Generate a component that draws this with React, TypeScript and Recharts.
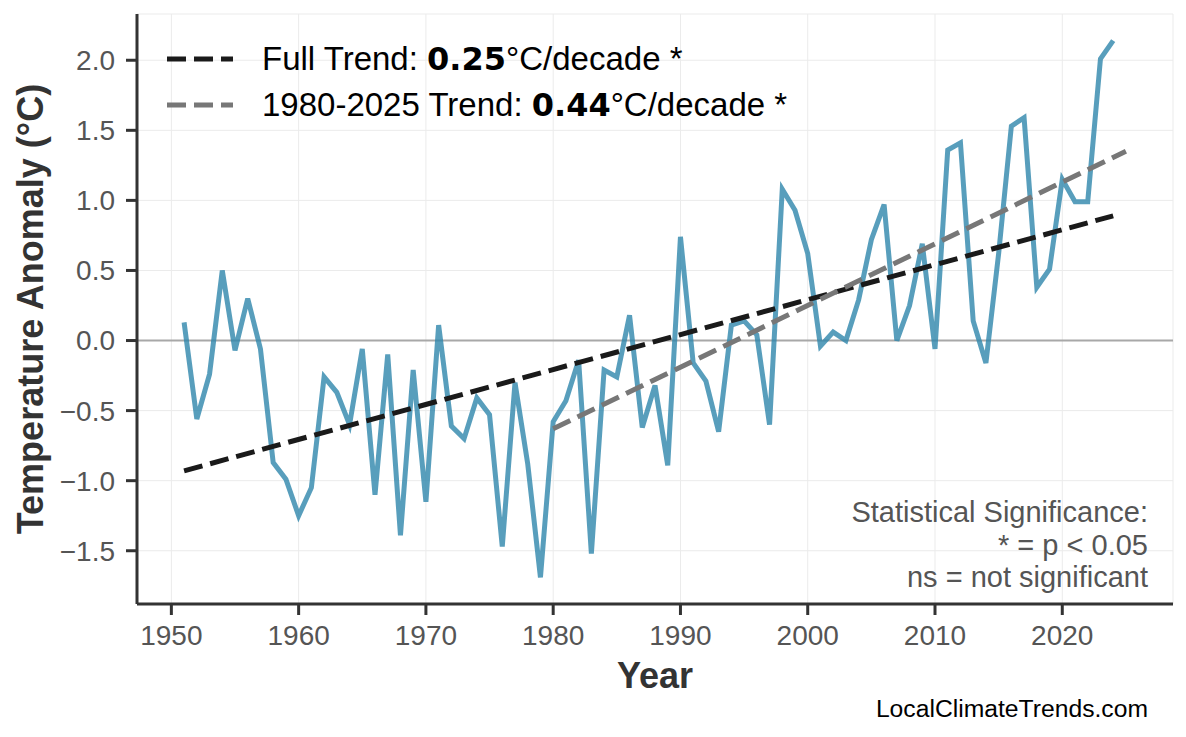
import { LineChart, Line, XAxis, YAxis, CartesianGrid, ReferenceLine, Legend, Customized } from 'recharts';

const years = [
    1951, 1952, 1953, 1954, 1955, 1956, 1957, 1958, 1959, 1960,
    1961, 1962, 1963, 1964, 1965, 1966, 1967, 1968, 1969, 1970,
    1971, 1972, 1973, 1974, 1975, 1976, 1977, 1978, 1979, 1980,
    1981, 1982, 1983, 1984, 1985, 1986, 1987, 1988, 1989, 1990,
    1991, 1992, 1993, 1994, 1995, 1996, 1997, 1998, 1999, 2000,
    2001, 2002, 2003, 2004, 2005, 2006, 2007, 2008, 2009, 2010,
    2011, 2012, 2013, 2014, 2015, 2016, 2017, 2018, 2019, 2020,
    2021, 2022, 2023, 2024,
];

const anomalies = [
    0.13, -0.56, -0.24, 0.50, -0.07, 0.30, -0.06, -0.87, -0.99, -1.25,
    -1.05, -0.26, -0.37, -0.60, -0.06, -1.10, -0.10, -1.39, -0.21, -1.15,
    0.11, -0.61, -0.70, -0.41, -0.53, -1.47, -0.30, -0.88, -1.69, -0.58,
    -0.43, -0.14, -1.52, -0.21, -0.26, 0.18, -0.62, -0.32, -0.89, 0.74,
    -0.16, -0.29, -0.65, 0.11, 0.14, 0.04, -0.60, 1.08, 0.93, 0.62,
    -0.04, 0.06, 0.00, 0.29, 0.72, 0.97, 0.00, 0.25, 0.69, -0.06,
    1.36, 1.41, 0.14, -0.16, 0.62, 1.53, 1.59, 0.38, 0.51, 1.15,
    0.99, 0.99, 2.01, 2.14,
];

// trend lines: end points of each fitted line
const fullTrendYears = [1951, 2024];
const fullTrendValues = [-0.93, 0.89];
const recentTrendYears = [1980, 2025];
const recentTrendValues = [-0.63, 1.35];

const trendNames = ['Full Trend', '1980-2025 Trend'];
const trendSlopes = ['0.25', '0.44'];
const trendSignif = ['*', '*'];
const trendColors = ['#1a1a1a', '#777777'];

const xTicks = [1950, 1960, 1970, 1980, 1990, 2000, 2010, 2020];
const yTicks = [-1.5, -1.0, -0.5, 0.0, 0.5, 1.0, 1.5, 2.0];

const significanceNote = ['Statistical Significance:', '* = p < 0.05', 'ns = not significant'];
const watermark = 'LocalClimateTrends.com';

const anomalyData = years.map((year, i) => ({ year, value: anomalies[i] }));
const fullTrendData = fullTrendYears.map((year, i) => ({ year, value: fullTrendValues[i] }));
const recentTrendData = recentTrendYears.map((year, i) => ({ year, value: recentTrendValues[i] }));

const FONT = '"Liberation Sans", Arial, sans-serif';
const DASH = '19 8';

function TrendLegend() {
    return (
        <div style={{ fontFamily: FONT, fontSize: 33, color: '#000' }}>
            {trendNames.map((name, i) => (
                <div key={name} style={{ display: 'flex', alignItems: 'center', height: 46 }}>
                    <svg width={66} height={10} style={{ display: 'block' }}>
                        <line x1={0} x2={66} y1={5} y2={5} stroke={trendColors[i]} strokeWidth={5} strokeDasharray={DASH} />
                    </svg>
                    <span style={{ marginLeft: 29, whiteSpace: 'nowrap' }}>
                        {name}: <b style={{ fontFamily: '"DejaVu Sans", sans-serif', fontSize: 32 }}>{trendSlopes[i]}</b>°C/decade {trendSignif[i]}
                    </span>
                </div>
            ))}
        </div>
    );
}

function Annotations() {
    return (
        <g fontFamily={FONT}>
            <text
                x={43}
                y={309}
                transform="rotate(-90, 43, 309)"
                textAnchor="middle"
                fontSize={36}
                fontWeight="bold"
                fill="#333"
            >
                Temperature Anomaly (°C)
            </text>
            <text x={655} y={688} textAnchor="middle" fontSize={36} fontWeight="bold" fill="#333">
                Year
            </text>
            {significanceNote.map((line, i) => (
                <text key={line} x={1148} y={512 + i * 32.5} textAnchor="end" dominantBaseline="central" fontSize={29} fill="#555">
                    {line}
                </text>
            ))}
            <text x={1148} y={708} textAnchor="end" dominantBaseline="central" fontSize={24.7} fill="#000">
                {watermark}
            </text>
        </g>
    );
}

export default function App() {
    return (
        <div style={{ width: 1186, height: 737, background: '#fff' }}>
            <style>{'body{margin:0}'}</style>
            <LineChart
                width={1186}
                height={737}
                data={anomalyData}
                margin={{ top: 14, right: 13, left: 0, bottom: 0 }}
            >
                <CartesianGrid stroke="#ebebeb" strokeWidth={1} />
                <XAxis
                    dataKey="year"
                    type="number"
                    domain={[1947.3, 2028.7]}
                    allowDataOverflow
                    ticks={xTicks}
                    height={133}
                    tickSize={11}
                    tickMargin={10}
                    stroke="#333"
                    strokeWidth={3}
                    tick={{ fill: '#555', fontSize: 28, fontFamily: FONT }}
                />
                <YAxis
                    type="number"
                    domain={[-1.88, 2.33]}
                    allowDataOverflow
                    ticks={yTicks}
                    width={137}
                    tickSize={11}
                    tickMargin={11}
                    stroke="#333"
                    strokeWidth={3}
                    tick={{ fill: '#555', fontSize: 28, fontFamily: FONT }}
                    tickFormatter={(v: number) => v.toFixed(1).replace('-', '\u2212')}
                />
                <ReferenceLine y={0} stroke="#a8a8a8" strokeWidth={2} />
                <Line
                    dataKey="value"
                    stroke="#2E86AB"
                    strokeOpacity={0.8}
                    strokeWidth={5}
                    strokeLinejoin="miter"
                    dot={false}
                    legendType="none"
                    isAnimationActive={false}
                />
                <Line
                    data={fullTrendData}
                    dataKey="value"
                    name={trendNames[0]}
                    stroke={trendColors[0]}
                    strokeWidth={5}
                    strokeDasharray={DASH}
                    dot={false}
                    isAnimationActive={false}
                />
                <Line
                    data={recentTrendData}
                    dataKey="value"
                    name={trendNames[1]}
                    stroke={trendColors[1]}
                    strokeWidth={5}
                    strokeDasharray={DASH}
                    dot={false}
                    isAnimationActive={false}
                />
                <Legend
                    layout="horizontal"
                    verticalAlign="middle"
                    align="center"
                    content={() => <TrendLegend />}
                    wrapperStyle={{ left: 167, top: 36, width: 'auto', height: 'auto' }}
                />
                <Customized component={Annotations} />
            </LineChart>
        </div>
    );
}
